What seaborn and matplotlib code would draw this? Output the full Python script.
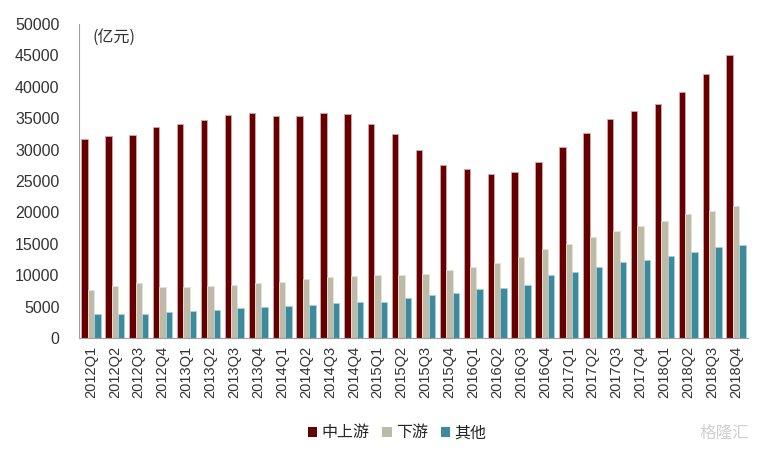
import matplotlib
matplotlib.use("Agg")
import matplotlib.pyplot as plt
import seaborn as sns
import pandas as pd
import numpy as np
from matplotlib.patches import Patch

quarters = ["2012Q1", "2012Q2", "2012Q3", "2012Q4", "2013Q1", "2013Q2", "2013Q3", "2013Q4",
            "2014Q1", "2014Q2", "2014Q3", "2014Q4", "2015Q1", "2015Q2", "2015Q3", "2015Q4",
            "2016Q1", "2016Q2", "2016Q3", "2016Q4", "2017Q1", "2017Q2", "2017Q3", "2017Q4",
            "2018Q1", "2018Q2", "2018Q3", "2018Q4"]
upstream = [31700, 32150, 32300, 33600, 34100, 34700, 35500, 35800,
            35300, 35300, 35900, 35600, 34000, 32500, 29900, 27500,
            26900, 26100, 26400, 28000, 30450, 32600, 34800, 36100,
            37200, 39100, 42000, 45100]
downstream = [7640, 8280, 8760, 8120, 8120, 8280, 8490, 8700,
              8960, 9340, 9660, 9870, 9980, 10080, 10240, 10870,
              11300, 11940, 12900, 14120, 15010, 16130, 17080, 17830,
              18630, 19690, 20270, 21060]
others = [3820, 3820, 3820, 4090, 4250, 4460, 4720, 4890,
          5050, 5200, 5520, 5680, 5780, 6420, 6800, 7210,
          7800, 7960, 8440, 9980, 10560, 11350, 12150, 12420,
          13050, 13690, 14440, 14760]
series_names = ["中上游", "下游", "其他"]
colors = ["#660000", "#bdbaa8", "#3d8a9c"]
edge_colors = ["#d9a8a8", "#e4e2d8", "#a9d0da"]
yticks = [0, 5000, 10000, 15000, 20000, 25000, 30000, 35000, 40000, 45000, 50000]

df = pd.DataFrame({
    "quarter": quarters * 3,
    "value": upstream + downstream + others,
    "series": [series_names[0]] * len(quarters) + [series_names[1]] * len(quarters) + [series_names[2]] * len(quarters),
})

sns.set_style("white")
plt.rcParams["font.family"] = ["Liberation Sans", "Noto Sans CJK SC", "DejaVu Sans"]

fig = plt.figure(figsize=(7.71, 4.53), dpi=100)
ax = fig.add_axes([79 / 771, 1 - 338 / 453, (748 - 79) / 771, (338 - 24) / 453])

sns.barplot(data=df, x="quarter", y="value", hue="series", hue_order=series_names,
            palette=colors, width=0.8, ax=ax, legend=False, saturation=1)

for i, cont in enumerate(ax.containers):
    for p in cont:
        p.set_edgecolor(edge_colors[i])
        p.set_linewidth(0.6)

ax.set_ylim(0, 50000)
ax.set_xlim(-0.5, len(quarters) - 0.5)
ax.set_yticks(yticks)
ax.set_yticklabels([str(v) for v in yticks], fontsize=11.5, color="#333333")
ax.set_xticks(range(len(quarters)))
ax.set_xticklabels(quarters, rotation=90, fontsize=10.5, color="#333333")
ax.tick_params(axis="x", which="major", length=0, pad=6)
ax.tick_params(axis="y", which="major", length=0, pad=14)
ax.set_xticks(np.arange(-0.5, len(quarters), 1.0), minor=True)
ax.tick_params(axis="x", which="minor", length=4, color="#a0a0a0", width=0.8)
ax.set_xlabel("")
ax.set_ylabel("")

for s in ["top", "right"]:
    ax.spines[s].set_visible(False)
for s in ["left", "bottom"]:
    ax.spines[s].set_color("#a0a0a0")
    ax.spines[s].set_linewidth(0.8)

ax.text(0.02, 0.985, "(亿元)", transform=ax.transAxes, fontsize=11.5, color="#333333",
        va="top", ha="left", family=["Noto Sans CJK SC", "DejaVu Sans"])

handles = [Patch(facecolor=c, edgecolor="none") for c in colors]
fig.legend(handles, series_names, loc="center", bbox_to_anchor=(397 / 771, 1 - 433 / 453),
           ncol=3, frameon=False, handlelength=0.6, handleheight=0.6,
           handletextpad=0.25, columnspacing=0.8,
           prop={"family": ["Noto Sans CJK SC", "DejaVu Sans"], "size": 11.5})

fig.text(0.94, 1 - 433 / 453, "格隆汇", fontsize=12, color="#d0d0d0", ha="center", va="center",
         family=["Noto Sans CJK SC", "DejaVu Sans"])

fig.savefig("out.png", dpi=100)
